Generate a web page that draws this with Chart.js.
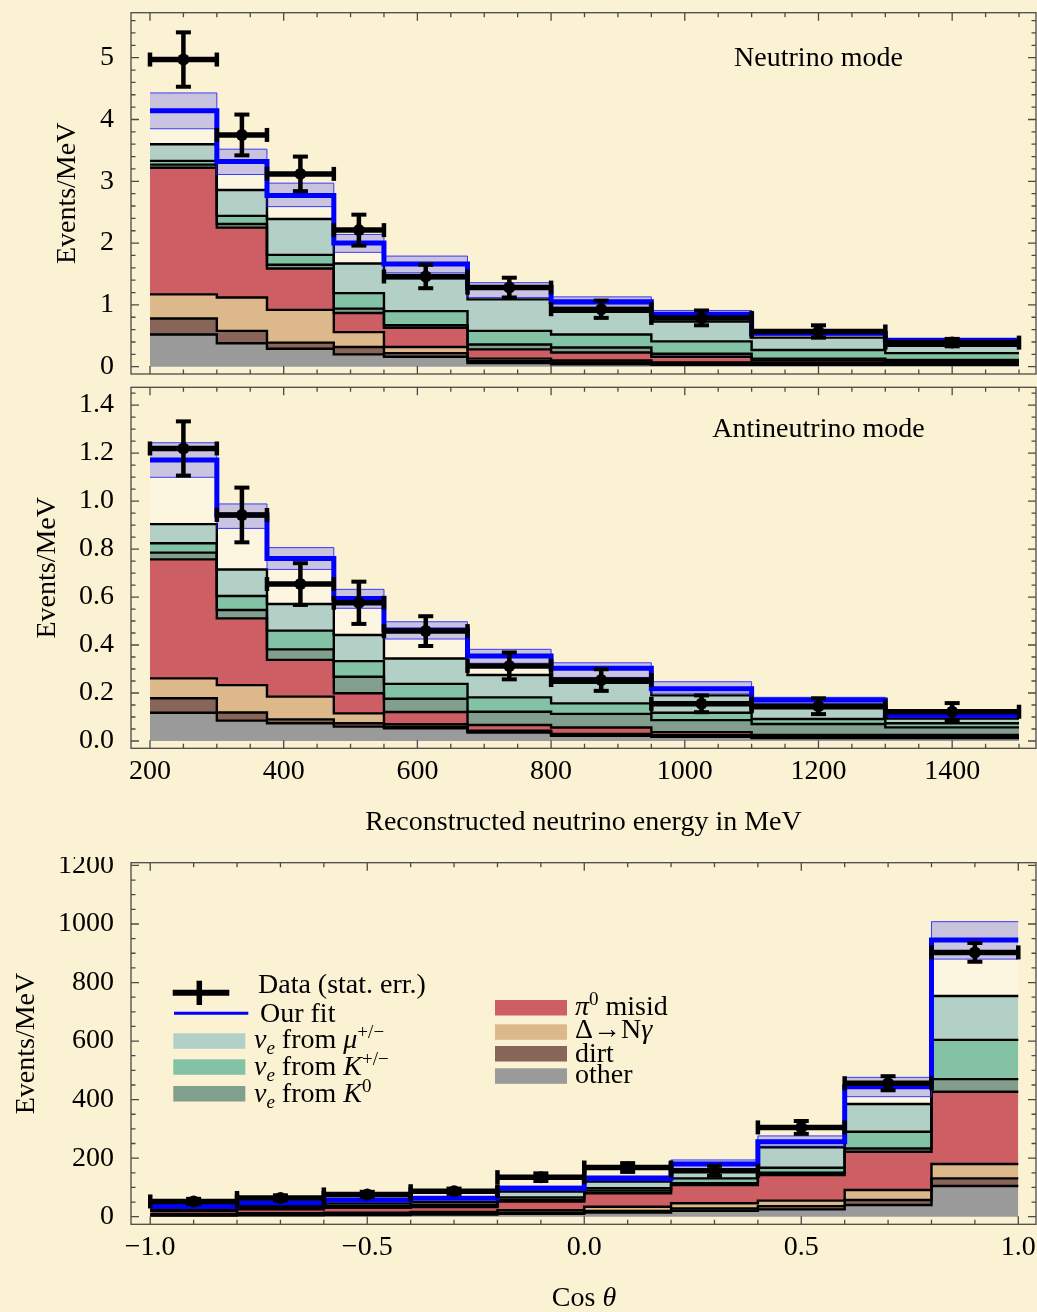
<!DOCTYPE html>
<html><head><meta charset="utf-8">
<script src="https://cdn.jsdelivr.net/npm/chart.js@4.4.1/dist/chart.umd.min.js"></script>
<style>
html,body{margin:0;padding:0;background:#fbf1d3;}
body{width:1037px;height:1312px;position:relative;overflow:hidden;}
canvas{position:absolute;left:0;}
</style></head><body>
<canvas id="c1" width="1037" height="380" style="top:0px"></canvas>
<canvas id="c2" width="1037" height="460" style="top:380px"></canvas>
<canvas id="c3" width="1037" height="455" style="top:857px"></canvas>
<script>
// ---------------- DATA ----------------
const E_EDGES = [200,300,375,475,550,675,800,950,1100,1300,1500];
const C_EDGES = [-1,-0.8,-0.6,-0.4,-0.2,0,0.2,0.4,0.6,0.8,1];

// Neutrino mode (Events/MeV)
const NU_OTHER  = [.52,.38,.29,.20,.16,.06,.04,.03,.03,.03];
const NU_DIRT   = [.26,.20,.10,.12,.06,.03,.03,.02,.015,.01];
const NU_DELTA  = [.39,.54,.53,.24,.10,.04,.03,.02,.015,.01];
const NU_PI0    = [2.05,1.13,.67,.31,.31,.15,.13,.09,.04,.03];
const NU_K0     = [.05,.06,.06,.07,.04,.08,.08,.05,.03,.03];
const NU_KPM    = [.06,.13,.16,.25,.23,.22,.21,.20,.14,.11];
const NU_MU     = [.27,.42,.58,.48,.53,.51,.37,.32,.20,.12];
const NU_FIT    = [4.14,3.32,2.77,2.00,1.66,1.28,1.05,.85,.54,.43];
const NU_FIT_LO = [3.85,3.11,2.59,1.85,1.52,1.12,1.00,.80,.51,.41];
const NU_FIT_HI = [4.43,3.52,2.97,2.14,1.79,1.36,1.13,.91,.57,.445];
const NU_DATA   = [4.97,3.75,3.12,2.21,1.46,1.28,.93,.79,.57,.39];
const NU_ERR    = [.44,.33,.28,.25,.19,.16,.14,.12,.10,.06];

// Antineutrino mode (Events/MeV)
const NB_OTHER  = [.118,.085,.074,.060,.053,.035,.022,.018,.012,.012];
const NB_DIRT   = [.060,.034,.016,.014,.007,.005,.004,.003,.002,.002];
const NB_DELTA  = [.083,.114,.095,.041,.010,.003,.003,.003,.002,.002];
const NB_PI0    = [.496,.278,.153,.084,.051,.024,.027,.013,.009,.009];
const NB_K0     = [.028,.035,.044,.069,.055,.055,.057,.050,.046,.032];
const NB_KPM    = [.039,.058,.078,.065,.062,.060,.044,.031,.021,.017];
const NB_MU     = [.080,.111,.111,.109,.106,.093,.086,.072,.044,.020];
const NB_FIT    = [1.171,.942,.761,.594,.463,.354,.303,.218,.171,.107];
const NB_FIT_LO = [1.099,.886,.715,.553,.425,.324,.265,.199,.157,.100];
const NB_FIT_HI = [1.243,.988,.806,.632,.497,.382,.326,.247,.182,.115];
const NB_DATA   = [1.219,.942,.654,.576,.458,.313,.254,.155,.145,.122];
const NB_ERR    = [.113,.114,.087,.088,.062,.056,.045,.035,.033,.036];

// Cos theta distribution
const CT_OTHER  = [4,5,6,7,10,14,20,25,40,105];
const CT_DIRT   = [2,3,3,3,4,6,8,11,17,26];
const CT_DELTA  = [3,4,5,6,8,14,18,19,34,49];
const CT_PI0    = [11,13,16,17,30,46,62,87,131,247];
const CT_K0     = [2,2,2,3,6,9,6,8,11,43];
const CT_KPM    = [3,3,4,5,8,8,17,17,57,134];
const CT_MU     = [7,7,9,9,20,23,23,70,95,150];
const CT_FIT    = [36,48,57,63,97,131,180,256,444,945];
const CT_FIT_LO = [33,44,53,59,91,123,165,241,410,880];
const CT_FIT_HI = [40,52,62,68,104,139,194,276,476,1008];
const CT_DATA   = [52,64,76,87,135,168,157,305,456,903];
const CT_ERR    = [9,9,9,9,13,15,17,22,24,32];

// Tick labels
const NU_Y_TICKS = [0,1,2,3,4,5];
const NB_Y_TICKS = [0,0.2,0.4,0.6,0.8,1.0,1.2,1.4];
const E_X_TICKS  = [200,400,600,800,1000,1200,1400];
const CT_Y_TICKS = [0,200,400,600,800,1000,1200];
const CT_X_TICKS = [-1,-0.5,0,0.5,1];
const CT_X_LABELS = ['\u22121.0','\u22120.5','0.0','0.5','1.0'];

// ---------------- STYLE ----------------
const FONT = "'Liberation Serif','Times New Roman',serif";
const COLORS = ['#9a9a9a','#876559','#dcb88a','#cd5e63','#829f8e','#84c2a6','#b3d0c7'];
const BAND_FILL = 'rgba(151,147,229,0.5)';
const BAND_EDGE = 'rgba(30,30,255,0.85)';

function stepPts(edges, vals){
  const p = vals.map((v,i)=>({x:edges[i], y:v}));
  p.push({x:edges[edges.length-1], y:vals[vals.length-1]});
  return p;
}
function cumulate(layers){
  let acc = layers[0].map(()=>0);
  return layers.map(l => { acc = acc.map((a,i)=>a+l[i]); return acc.slice(); });
}
function rich(ctx, x, y, segs, size, align){
  const parts = segs.map(s=>{
    const small = s.sub || s.sup;
    const fs = small ? size*0.68 : size;
    const font = (s.it?'italic ':'') + fs + 'px ' + FONT;
    ctx.font = font;
    return {t:s.t, font, w:ctx.measureText(s.t).width, dy: s.sub ? size*0.22 : (s.sup ? -size*0.36 : 0)};
  });
  const total = parts.reduce((a,p)=>a+p.w,0);
  let cx = align==='center' ? x-total/2 : x;
  ctx.textAlign='left'; ctx.textBaseline='alphabetic';
  parts.forEach(p=>{ ctx.font=p.font; ctx.fillText(p.t, cx, y+p.dy); cx+=p.w; });
}

const framePlugin = {
  id:'frame',
  afterDraw(chart, args, o){
    const {ctx, chartArea:a, scales:{x,y}} = chart;
    ctx.save();
    ctx.strokeStyle='#4a4a4a'; ctx.lineWidth=1.3;
    ctx.strokeRect(a.left, a.top, a.right-a.left, a.bottom-a.top);
    ctx.beginPath();
    const xt = (v,len)=>{ const p=x.getPixelForValue(v); ctx.moveTo(p,a.bottom); ctx.lineTo(p,a.bottom-len); ctx.moveTo(p,a.top); ctx.lineTo(p,a.top+len); };
    const yt = (v,len)=>{ const p=y.getPixelForValue(v); ctx.moveTo(a.left,p); ctx.lineTo(a.left+len,p); ctx.moveTo(a.right,p); ctx.lineTo(a.right-len,p); };
    for(let i=0;i<=o.xMinor.n;i++) xt(o.xMinor.from+i*o.xMinor.step, 4.5);
    o.xMajor.forEach(v=>xt(v,8));
    for(let i=0;i<=o.yMinor.n;i++) yt(o.yMinor.from+i*o.yMinor.step, 4.5);
    o.yMajor.forEach(v=>yt(v,8));
    ctx.stroke();
    ctx.restore();
  }
};

const errPlugin = {
  id:'errbars',
  afterDatasetsDraw(chart, args, o){
    const {ctx, scales:{x,y}} = chart;
    ctx.save(); ctx.strokeStyle='#000'; ctx.fillStyle='#000'; ctx.lineCap='butt';
    const line=(a,b,c,d,w)=>{ctx.lineWidth=w; ctx.beginPath(); ctx.moveTo(a,b); ctx.lineTo(c,d); ctx.stroke();};
    o.values.forEach((v,i)=>{
      const x0=x.getPixelForValue(o.edges[i]), x1=x.getPixelForValue(o.edges[i+1]);
      const xc=x.getPixelForValue((o.edges[i]+o.edges[i+1])/2);
      const yc=y.getPixelForValue(v), yt=y.getPixelForValue(v+o.errors[i]), yb=y.getPixelForValue(v-o.errors[i]);
      line(x0,yc,x1,yc,5.5);
      line(x0,yc-7,x0,yc+7,4.5); line(x1,yc-7,x1,yc+7,4.5);
      line(xc,yt,xc,yb,4.5);
      line(xc-7.5,yt,xc+7.5,yt,4); line(xc-7.5,yb,xc+7.5,yb,4);
      ctx.beginPath(); ctx.arc(xc,yc,6,0,Math.PI*2); ctx.fill();
    });
    ctx.restore();
  }
};

const textPlugin = {
  id:'texts',
  afterDraw(chart, args, o){
    const {ctx, scales:{x,y}} = chart;
    ctx.save(); ctx.fillStyle='#000';
    (o.items||[]).forEach(it=>{
      const px = it.px!=null ? it.px : x.getPixelForValue(it.x);
      const py = it.py!=null ? it.py : y.getPixelForValue(it.y);
      rich(ctx, px, py, it.segs, it.size, it.align);
    });
    ctx.restore();
  }
};

const legendPlugin = {
  id:'mylegend',
  afterDraw(chart, args, o){
    if(!o.show) return;
    const ctx = chart.ctx;
    ctx.save();
    ctx.strokeStyle='#000'; ctx.lineCap='butt';
    ctx.lineWidth=6; ctx.beginPath(); ctx.moveTo(172.7,135.7); ctx.lineTo(229.3,135.7); ctx.stroke();
    ctx.lineWidth=5.5; ctx.beginPath(); ctx.moveTo(199.3,123.7); ctx.lineTo(199.3,148); ctx.stroke();
    ctx.strokeStyle='#0000ff'; ctx.lineWidth=3; ctx.beginPath(); ctx.moveTo(174,156.3); ctx.lineTo(248.3,156.3); ctx.stroke();
    const sw=(x,y,c)=>{ctx.fillStyle=c; ctx.fillRect(x,y,72,15.5);};
    sw(173.3,176.3,COLORS[6]); sw(173.3,202.3,COLORS[5]); sw(173.3,229,COLORS[4]);
    sw(495,143,COLORS[3]); sw(495,167.3,COLORS[2]); sw(495,189,COLORS[1]); sw(495,211.3,COLORS[0]);
    ctx.fillStyle='#000';
    const S=28;
    rich(ctx,258,136.3,[{t:'Data (stat. err.)'}],S);
    rich(ctx,260,165,[{t:'Our fit'}],S);
    rich(ctx,254,191,[{t:'\u03bd',it:1},{t:'e',it:1,sub:1},{t:' from '},{t:'\u03bc',it:1},{t:'+/\u2212',sup:1}],S);
    rich(ctx,254,218,[{t:'\u03bd',it:1},{t:'e',it:1,sub:1},{t:' from '},{t:'K',it:1},{t:'+/\u2212',sup:1}],S);
    rich(ctx,254,245,[{t:'\u03bd',it:1},{t:'e',it:1,sub:1},{t:' from '},{t:'K',it:1},{t:'0',sup:1}],S);
    rich(ctx,575,158,[{t:'\u03c0',it:1},{t:'0',sup:1},{t:' misid'}],S);
    rich(ctx,575,181,[{t:'\u0394\u2192N'},{t:'\u03b3',it:1}],S);
    rich(ctx,575,205,[{t:'dirt'}],S);
    rich(ctx,575,226,[{t:'other'}],S);
    ctx.restore();
  }
};

function makeChart(id, cfg){
  const layers = cumulate(cfg.components);
  const ds = [];
  layers.forEach((l,i)=>ds.push({data:stepPts(cfg.edges,l), stepped:true, fill:i===0?'origin':i-1,
    backgroundColor:COLORS[i], borderColor:'#000', borderWidth:2.4, pointRadius:0, order:20-i}));
  const muIdx = layers.length-1;
  ds.push({data:stepPts(cfg.edges,cfg.fit), stepped:true, fill:muIdx, backgroundColor:'rgba(255,255,255,0.3)',
    borderColor:'rgba(0,0,0,0)', borderWidth:1, pointRadius:0, order:6});
  const loIdx = ds.length;
  ds.push({data:stepPts(cfg.edges,cfg.lo), stepped:true, fill:false, borderColor:BAND_EDGE, borderWidth:1, pointRadius:0, order:4});
  ds.push({data:stepPts(cfg.edges,cfg.hi), stepped:true, fill:loIdx, backgroundColor:BAND_FILL, borderColor:BAND_EDGE, borderWidth:1, pointRadius:0, order:3});
  ds.push({data:stepPts(cfg.edges,cfg.fit), stepped:true, fill:false, borderColor:'#0000ff', borderWidth:5, pointRadius:0, order:1});

  const tickFont = {family:FONT, size:28};
  return new Chart(document.getElementById(id), {
    type:'line',
    data:{datasets:ds},
    options:{
      responsive:false, animation:false, devicePixelRatio:1, events:[],
      layout:{padding:{left:0, right:1, top:cfg.top, bottom:0}},
      plugins:{
        legend:{display:false}, tooltip:{enabled:false},
        filler:{propagate:false, drawTime:'beforeDatasetsDraw'},
        frame:cfg.frame,
        errbars:{edges:cfg.edges, values:cfg.data, errors:cfg.err},
        texts:{items:cfg.texts||[]},
        mylegend:{show:!!cfg.legend}
      },
      scales:{
        x:{type:'linear', min:cfg.xmin, max:cfg.xmax,
          grid:{display:false}, border:{display:false},
          ticks:{display:cfg.xLabels, font:tickFont, color:'#000', padding:-1, maxRotation:0, autoSkip:false,
            callback:(v,i)=> cfg.xTickLabels ? cfg.xTickLabels[i] : String(v)},
          title:{display:!!cfg.xTitle, text:cfg.xTitle||'', font:{family:FONT,size:28,lineHeight:1.2}, color:'#000', padding:{top:0,bottom:cfg.xTitlePad||0}},
          afterBuildTicks:s=>{ s.ticks = cfg.xTicks.map(v=>({value:v})); },
          afterFit:s=>{ s.height = cfg.xHeight; s.paddingLeft=0; s.paddingRight=0; }
        },
        y:{type:'linear', min:cfg.ymin, max:cfg.ymax,
          grid:{display:false}, border:{display:false},
          ticks:{font:tickFont, color:'#000', padding:9, autoSkip:false,
            callback:v=> cfg.yFmt ? cfg.yFmt(v) : String(v)},
          title:{display:true, text:'Events/MeV', font:{family:FONT,size:28,lineHeight:1.2}, color:'#000', padding:{top:cfg.yTitlePad,bottom:0}},
          afterBuildTicks:s=>{ s.ticks = cfg.yTicks.map(v=>({value:v})); },
          afterFit:s=>{ s.width = 131; s.paddingTop=0; s.paddingBottom=0; }
        }
      }
    },
    plugins:[framePlugin, errPlugin, textPlugin, legendPlugin]
  });
}

// Panel 1: neutrino mode
makeChart('c1', {
  edges:E_EDGES, components:[NU_OTHER,NU_DIRT,NU_DELTA,NU_PI0,NU_K0,NU_KPM,NU_MU],
  fit:NU_FIT, lo:NU_FIT_LO, hi:NU_FIT_HI, data:NU_DATA, err:NU_ERR,
  xmin:171.6, xmax:1525.4, ymin:-0.118, ymax:5.728, top:12.7, xHeight:6,
  xLabels:false, xTicks:E_X_TICKS, yTicks:NU_Y_TICKS, yTitlePad:51,
  frame:{xMajor:E_X_TICKS, xMinor:{from:200,step:50,n:26}, yMajor:NU_Y_TICKS, yMinor:{from:0,step:0.2,n:28}},
  texts:[{x:1200, y:4.87, segs:[{t:'Neutrino mode'}], size:28, align:'center'}]
});

// Panel 2: antineutrino mode
makeChart('c2', {
  edges:E_EDGES, components:[NB_OTHER,NB_DIRT,NB_DELTA,NB_PI0,NB_K0,NB_KPM,NB_MU],
  fit:NB_FIT, lo:NB_FIT_LO, hi:NB_FIT_HI, data:NB_DATA, err:NB_ERR,
  xmin:171.6, xmax:1525.4, ymin:-0.0304, ymax:1.474, top:7.3, xHeight:91.7,
  xLabels:true, xTicks:E_X_TICKS, yTicks:NB_Y_TICKS, yTitlePad:31, yFmt:v=>v.toFixed(1),
  xTitle:'Reconstructed neutrino energy in MeV', xTitlePad:1,
  frame:{xMajor:E_X_TICKS, xMinor:{from:200,step:50,n:26}, yMajor:NB_Y_TICKS, yMinor:{from:0,step:0.05,n:29}},
  texts:[{x:1200, y:1.265, segs:[{t:'Antineutrino mode'}], size:28, align:'center'}]
});

// Panel 3: cos theta
makeChart('c3', {
  edges:C_EDGES, components:[CT_OTHER,CT_DIRT,CT_DELTA,CT_PI0,CT_K0,CT_KPM,CT_MU],
  fit:CT_FIT, lo:CT_FIT_LO, hi:CT_FIT_HI, data:CT_DATA, err:CT_ERR,
  xmin:-1.0443, xmax:1.0408, ymin:-26, ymax:1209.4, top:5.7, xHeight:87.7,
  xLabels:true, xTicks:CT_X_TICKS, xTickLabels:CT_X_LABELS, yTicks:CT_Y_TICKS, yTitlePad:10,
  frame:{xMajor:CT_X_TICKS, xMinor:{from:-1,step:0.1,n:20}, yMajor:CT_Y_TICKS, yMinor:{from:0,step:50,n:24}},
  legend:true,
  texts:[{px:584, py:449, segs:[{t:'Cos '},{t:'\u03b8',it:1}], size:28, align:'center'}]
});
</script>
</body></html>
